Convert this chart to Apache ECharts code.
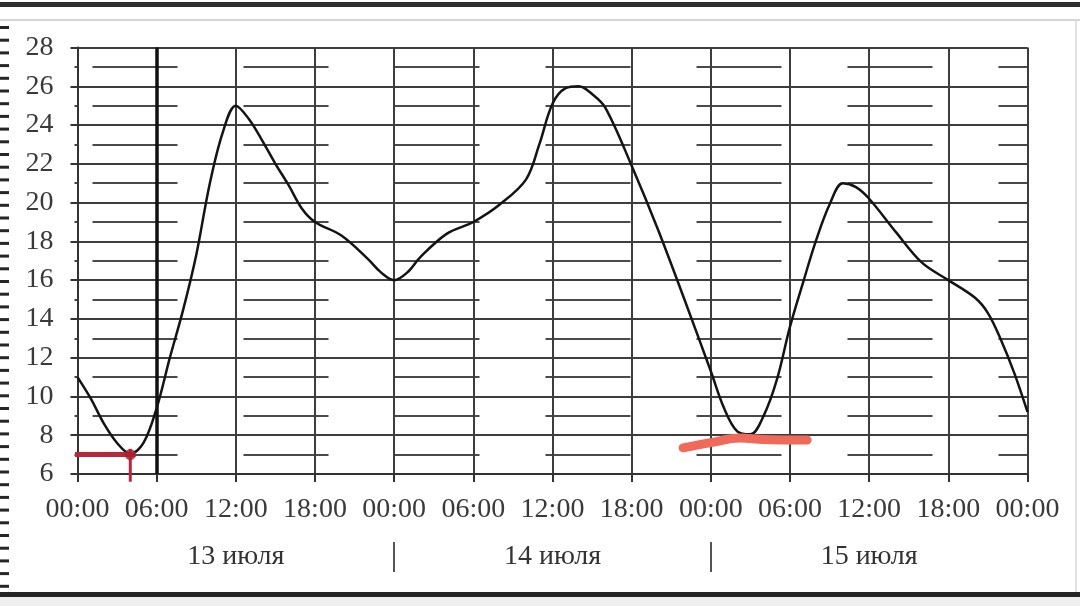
<!DOCTYPE html>
<html>
<head>
<meta charset="utf-8">
<script src="https://cdn.jsdelivr.net/npm/echarts@6/dist/echarts.min.js"></script>
<style>
html,body{margin:0;padding:0;background:#fff;}
#chart{width:1080px;height:606px;}
</style>
</head>
<body>
<div id="chart"></div>
<script>
// Hours since 00:00 on 13 July
const hours = [0,1,2,3,4,5,6,7,8,9,10,11,12,13,14,15,16,17,18,20,22,23,24,25,26,28,30,32,34,35,36,37,38,39,40,42,44,46,48,49,50,51,52,53,54,55,56,57,58,59,60,62,64,66,68,69,70,71,72];
// Temperature, °C
const temps = [11.0,9.9,8.6,7.6,7.05,7.6,9.4,12.0,14.45,17.3,20.9,23.6,25.0,24.3,23.2,22.0,20.9,19.7,19.0,18.3,17.1,16.4,16.0,16.4,17.2,18.4,19.0,19.9,21.2,23.0,25.1,25.9,26.0,25.6,24.9,21.9,18.6,15.0,11.3,9.4,8.2,8.05,9.0,10.85,13.6,15.9,18.1,19.9,21.0,20.8,20.2,18.5,16.9,16.0,15.1,14.3,12.9,11.2,9.2];

const yTicks = [6,8,10,12,14,16,18,20,22,24,26,28];
const dayLabels = ['13 июля','14 июля','15 июля'];
const dayCenters = [12,36,60];
const daySeparators = [24,48];
const boldLineHour = [6];

// hand-drawn annotations
const redMarkX = [-0.2,4.4];
const redMarkY = [7,7];
const redTickX = [4,4];
const redTickY = [5.6,7.3];
const redDot = [4,7];
const salmonX = [45.9,48,50.2,52,55.3];
const salmonY = [7.35,7.62,7.86,7.78,7.75];

const zip = (a,b)=>a.map((v,i)=>[v,b[i]]);
const serif = 'Liberation Serif';

const chart = echarts.init(document.getElementById('chart'));

// decorative page frame (photo borders)
const deco = [];
deco.push({type:'rect',shape:{x:0,y:2,width:1080,height:5},style:{fill:'#2e2e2e'},silent:true});
deco.push({type:'rect',shape:{x:0,y:19,width:1080,height:2},style:{fill:'#d6d6d6'},silent:true});
deco.push({type:'rect',shape:{x:0,y:592,width:1080,height:5},style:{fill:'#262626'},silent:true});
deco.push({type:'rect',shape:{x:0,y:597,width:1080,height:9},style:{fill:'#efefef'},silent:true});
deco.push({type:'rect',shape:{x:1075,y:21,width:2,height:571},style:{fill:'#e2e2e2'},silent:true});
for(let y=26;y<590;y+=12.7){
  deco.push({type:'rect',shape:{x:0,y:y,width:9,height:3},style:{fill:'#262626'},silent:true});
}

chart.setOption({
  backgroundColor:'#ffffff',
  animation:false,
  graphic: deco,
  grid:{left:77.5,right:52.5,top:47.5,bottom:132,containLabel:false},
  xAxis:[{
    type:'value',min:0,max:72,interval:6,
    axisLine:{show:true,lineStyle:{color:'#333',width:2}},
    axisTick:{show:true,length:8,lineStyle:{color:'#333',width:2}},
    axisLabel:{
      fontFamily:serif,fontSize:28,color:'#3a3a3a',margin:22,
      showMinLabel:true,showMaxLabel:true,
      formatter:v=>String(v%24).padStart(2,'0')+':00'
    },
    splitLine:{show:true,lineStyle:{color:'#3d3d3d',width:2}}
  },{
    type:'value',min:0,max:72,position:'bottom',offset:68,
    axisLine:{show:false},
    axisTick:{show:true,customValues:daySeparators,length:30,lineStyle:{color:'#555',width:2}},
    axisLabel:{
      customValues:dayCenters,fontFamily:serif,fontSize:28,color:'#333',margin:1,
      formatter:v=>dayLabels[dayCenters.indexOf(v)]
    },
    splitLine:{show:false}
  }],
  yAxis:{
    type:'value',min:6,max:28,interval:2,
    axisLine:{show:true,lineStyle:{color:'#333',width:2}},
    axisTick:{show:true,length:7,lineStyle:{color:'#333',width:2}},
    minorTick:{show:true,splitNumber:2,length:3,lineStyle:{color:'#444',width:2}},
    axisLabel:{fontFamily:serif,fontSize:28,color:'#3a3a3a',margin:24,
      formatter:v=>yTicks.includes(v)?String(v):''},
    splitLine:{show:true,lineStyle:{color:'#3d3d3d',width:2}},
    minorSplitLine:{show:true,lineStyle:{color:'#4a4a4a',width:2,type:[85,66],dashOffset:136}}
  },
  series:[{
    type:'line',
    data:zip(hours,temps),
    smooth:0.35,
    showSymbol:false,
    lineStyle:{color:'#141414',width:2.5},
    markLine:{
      silent:true,symbol:['none','none'],label:{show:false},
      lineStyle:{color:'#111',width:3.5,type:'solid'},
      data:boldLineHour.map(h=>({xAxis:h}))
    },
    z:5
  },{
    type:'line',data:zip(redMarkX,redMarkY),showSymbol:false,clip:false,
    lineStyle:{color:'#b8283a',width:5},z:6
  },{
    type:'line',data:zip(redTickX,redTickY),showSymbol:false,clip:false,
    lineStyle:{color:'#b8283a',width:3},z:6
  },{
    type:'scatter',data:[redDot],symbolSize:11,clip:false,
    itemStyle:{color:'#a81e30'},z:7
  },{
    type:'line',data:zip(salmonX,salmonY),smooth:0.4,showSymbol:false,clip:false,
    lineStyle:{color:'#f06a5c',width:9,cap:'round'},z:6
  }]
});
</script>
</body>
</html>
